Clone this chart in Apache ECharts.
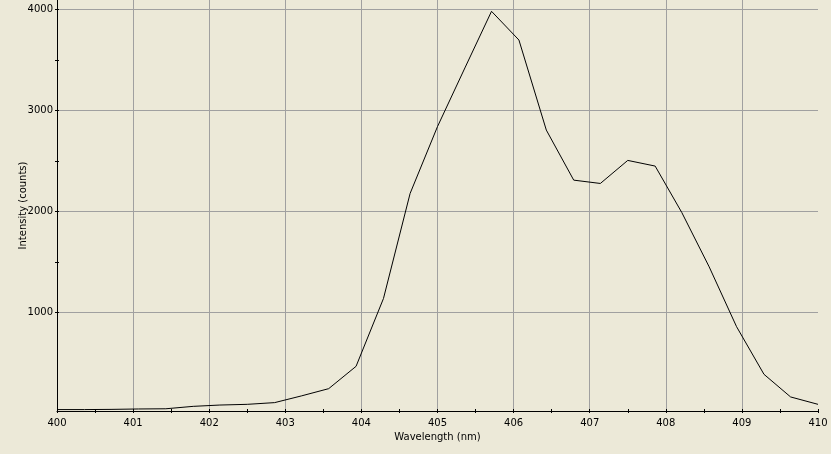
<!DOCTYPE html>
<html>
<head>
<meta charset="utf-8">
<script src="https://cdn.jsdelivr.net/npm/echarts@6/dist/echarts.min.js"></script>
<style>
html,body{margin:0;padding:0;background:#ECE9D8;}
#chart{width:831px;height:454px;}
</style>
</head>
<body>
<div id="chart"></div>
<script>
var wavelengths = [400.00, 400.36, 400.71, 401.07, 401.43, 401.79, 402.14, 402.50, 402.86, 403.21,
  403.57, 403.93, 404.29, 404.64, 405.00, 405.36, 405.71, 406.07, 406.43, 406.79,
  407.14, 407.50, 407.86, 408.21, 408.57, 408.93, 409.29, 409.64, 410.00];
var intensity = [40, 40, 42, 46, 48, 72, 85, 92, 109, 175,
  247, 468, 1139, 2178, 2840, 3420, 3980, 3696, 2805, 2310,
  2277, 2505, 2449, 1990, 1452, 860, 389, 165, 92];
var xTickValues = [400, 400.5, 401, 401.5, 402, 402.5, 403, 403.5, 404, 404.5, 405, 405.5, 406, 406.5, 407, 407.5, 408, 408.5, 409, 409.5, 410];
var xLabelValues = [400, 401, 402, 403, 404, 405, 406, 407, 408, 409, 410];
var yTickValues = [1000, 1500, 2000, 2500, 3000, 3500, 4000];
var yLabelValues = [1000, 2000, 3000, 4000];

var pts = wavelengths.map(function (w, i) { return [w, intensity[i]]; });
var font = 'DejaVu Sans';
var plain = function (v) { return String(v); };
function tickAxis(base, vals, inside) {
  return Object.assign({
    type: 'value',
    axisLine: { show: false },
    axisTick: { show: true, inside: inside, length: 2, customValues: vals, lineStyle: { color: '#000' } },
    axisLabel: { show: false },
    splitLine: { show: false }
  }, base);
}
var chart = echarts.init(document.getElementById('chart'));
chart.setOption({
  backgroundColor: '#ECE9D8',
  animation: false,
  grid: { left: 57, right: 13, top: 0, bottom: 43, containLabel: false, outerBoundsMode: 'none' },
  xAxis: [{
    type: 'value', min: 400, max: 410, interval: 1, position: 'bottom',
    name: 'Wavelength (nm)', nameLocation: 'middle', nameGap: 21, nameMoveOverlap: false,
    nameTextStyle: { color: '#000', fontFamily: font, fontSize: 10 },
    axisLine: { show: true, lineStyle: { color: '#000', width: 1 } },
    axisTick: { show: false },
    axisLabel: { color: '#000', fontFamily: font, fontSize: 10, margin: 7, customValues: xLabelValues, formatter: plain },
    splitLine: { show: true, showMinLine: false, showMaxLine: false, lineStyle: { color: '#A0A0A0', width: 1 } }
  },
    tickAxis({ min: 400, max: 410, position: 'bottom' }, xTickValues, false),
    tickAxis({ min: 400, max: 410, position: 'bottom' }, xTickValues, true)
  ],
  yAxis: [{
    type: 'value', min: 26, max: 4092, position: 'left',
    name: 'Intensity (counts)', nameLocation: 'middle', nameGap: 29, nameMoveOverlap: false,
    nameTextStyle: { color: '#000', fontFamily: font, fontSize: 10 },
    axisLine: { show: true, lineStyle: { color: '#000', width: 1 } },
    axisTick: { show: false },
    axisLabel: { color: '#000', fontFamily: font, fontSize: 10, margin: 4, customValues: yLabelValues, formatter: plain },
    splitLine: { show: true, showMinLine: false, showMaxLine: false, lineStyle: { color: '#A0A0A0', width: 1 } }
  },
    tickAxis({ min: 26, max: 4092, position: 'left' }, yTickValues, false),
    tickAxis({ min: 26, max: 4092, position: 'left' }, yTickValues, true)
  ],
  series: [{
    type: 'line', data: pts, xAxisIndex: 0, yAxisIndex: 0,
    showSymbol: false, symbol: 'none',
    lineStyle: { color: '#000', width: 1 }
  }]
});
</script>
</body>
</html>
